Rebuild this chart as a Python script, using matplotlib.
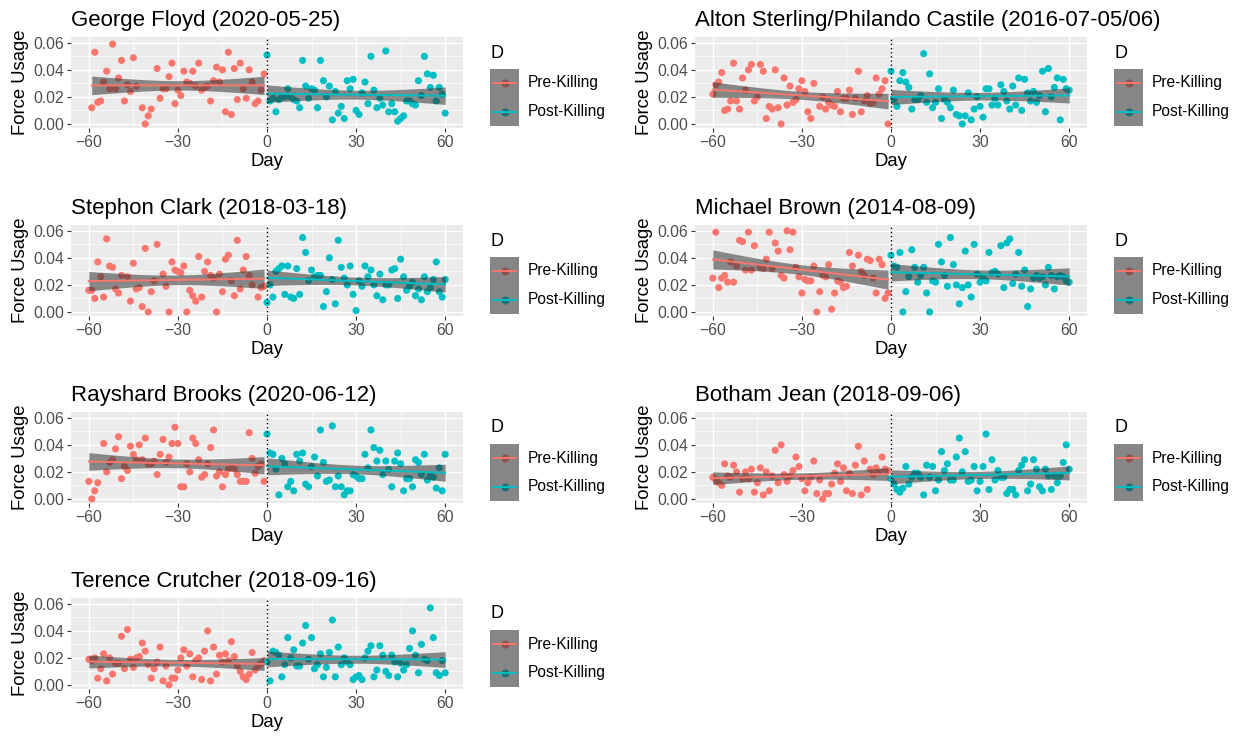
import matplotlib

matplotlib.use("Agg")

import matplotlib.pyplot as plt  # noqa: E402
import numpy as np  # noqa: E402
from matplotlib.lines import Line2D  # noqa: E402
from matplotlib.patches import Rectangle  # noqa: E402
from matplotlib.transforms import Affine2D  # noqa: E402

nan = np.nan

# ---- data: daily force usage, pre (days -60..-1) and post (days 0..60) ----
floyd_pre = [
    nan, 0.012, 0.053, 0.016, 0.017, 0.031, 0.039, 0.026, 0.059, 0.026,
    0.034, 0.047, 0.017, 0.029, 0.024, 0.049, 0.028, nan, 0.012, 0.000,
    0.006, 0.011, nan, 0.041, 0.019, 0.026, 0.026, 0.035, 0.045, 0.015,
    0.025, 0.021, 0.039, 0.031, 0.030, 0.039, 0.028, 0.045, 0.025, 0.027,
    0.028, 0.017, 0.032, 0.042, 0.031, 0.040, 0.009, 0.053, 0.007, 0.041,
    0.018, 0.045, 0.026, 0.019, 0.040, 0.031, 0.015, 0.017, 0.025, 0.037,
]
floyd_post = [
    0.051, 0.017, 0.019, 0.009, 0.018, 0.020, 0.020, 0.026, 0.020, 0.018,
    0.017, 0.012, 0.047, 0.028, 0.019, 0.026, 0.025, 0.012, 0.047, 0.032,
    0.020, 0.028, 0.003, 0.024, 0.008, 0.013, 0.004, 0.032, 0.026, 0.033,
    0.010, 0.007, 0.023, 0.031, 0.015, 0.050, 0.025, 0.012, 0.019, 0.014,
    0.054, 0.009, 0.015, 0.009, 0.002, 0.004, 0.006, 0.017, 0.017, 0.015,
    0.014, 0.032, 0.021, 0.050, 0.037, 0.027, 0.036, 0.017, 0.027, 0.022,
    0.008,
]
sterling_pre = [
    0.022, 0.029, 0.031, 0.038, 0.010, 0.011, 0.017, 0.045, 0.017, 0.011,
    0.034, 0.025, 0.040, 0.044, 0.017, 0.020, 0.044, 0.039, 0.004, 0.013,
    0.011, 0.040, 0.012, 0.000, 0.034, 0.014, 0.028, 0.016, 0.018, 0.026,
    0.032, 0.024, 0.009, 0.004, 0.030, nan, 0.013, 0.020, 0.011, 0.016,
    0.014, 0.013, 0.024, 0.009, 0.019, 0.019, 0.025, 0.007, 0.019, 0.039,
    0.009, 0.017, 0.021, 0.015, 0.016, 0.034, 0.022, 0.026, 0.032, 0.000,
]
sterling_post = [
    0.039, 0.018, 0.013, 0.032, 0.038, 0.031, 0.027, 0.011, 0.018, 0.018,
    0.021, 0.052, 0.016, 0.037, 0.012, 0.016, 0.026, 0.004, 0.018, 0.016,
    0.012, 0.025, 0.007, 0.006, 0.000, 0.006, 0.023, 0.003, 0.011, 0.020,
    0.013, 0.005, 0.026, 0.026, 0.014, 0.019, 0.014, 0.029, 0.024, 0.017,
    0.011, 0.028, 0.014, 0.034, 0.010, 0.033, 0.023, 0.017, 0.024, 0.016,
    0.021, 0.039, 0.009, 0.041, 0.020, 0.027, 0.034, 0.003, 0.033, 0.026,
    0.025,
]
clark_pre = [
    0.016, 0.016, 0.010, 0.037, 0.026, 0.011, 0.054, 0.034, 0.033, 0.017,
    0.014, 0.027, nan, 0.026, 0.008, 0.036, 0.017, 0.018, 0.004, 0.047,
    0.000, 0.015, 0.023, 0.050, nan, 0.028, 0.019, 0.000, 0.037, 0.031,
    0.030, 0.029, 0.034, 0.000, 0.016, 0.012, 0.008, 0.041, 0.011, 0.030,
    0.037, 0.027, 0.025, 0.000, 0.028, 0.015, 0.039, 0.042, 0.023, 0.012,
    0.053, 0.017, 0.031, 0.041, 0.027, 0.020, nan, 0.011, 0.018, 0.019,
]
clark_post = [
    0.007, 0.020, 0.011, 0.030, 0.032, 0.034, 0.013, 0.034, 0.011, 0.010,
    0.032, 0.013, 0.055, 0.044, 0.023, 0.031, 0.026, 0.027, 0.027, 0.004,
    0.015, 0.040, 0.024, 0.006, 0.053, 0.033, 0.025, 0.020, 0.034, 0.013,
    0.001, 0.023, 0.019, 0.034, 0.026, 0.031, 0.020, 0.012, 0.028, 0.009,
    0.020, 0.020, 0.031, 0.032, 0.010, 0.039, 0.026, 0.016, 0.019, 0.022,
    0.012, 0.017, 0.009, 0.026, 0.015, 0.018, 0.024, 0.037, 0.015, 0.011,
    0.024,
]
brown_pre = [
    0.025, 0.059, 0.018, 0.025, 0.027, 0.022, 0.037, 0.022, 0.034, 0.053,
    0.052, 0.031, 0.059, 0.031, 0.049, nan, 0.033, 0.032, 0.039, 0.059,
    0.032, 0.051, 0.045, 0.027, 0.025, 0.060, 0.046, 0.059, 0.033, 0.026,
    0.014, 0.024, 0.023, 0.023, 0.034, 0.000, 0.015, 0.027, 0.026, 0.035,
    0.002, 0.014, 0.023, 0.022, 0.018, 0.019, 0.044, 0.034, nan, 0.042,
    0.030, 0.027, 0.039, 0.038, 0.025, 0.014, 0.039, 0.035, 0.010, 0.014,
]
brown_post = [
    0.042, 0.034, 0.033, 0.044, 0.000, 0.015, 0.026, 0.046, 0.033, 0.022,
    0.027, 0.033, 0.014, 0.000, 0.023, 0.022, 0.050, 0.037, 0.027, 0.019,
    0.055, 0.035, 0.020, 0.006, 0.018, 0.045, 0.020, 0.011, 0.050, 0.028,
    0.022, 0.025, 0.023, 0.044, 0.029, 0.030, 0.028, 0.049, 0.018, 0.051,
    0.054, 0.021, 0.028, 0.044, 0.019, 0.031, 0.004, 0.017, 0.025, 0.027,
    0.025, 0.026, 0.020, 0.033, 0.027, 0.017, 0.026, 0.027, 0.026, 0.023,
    0.022,
]
brooks_pre = [
    0.013, 0.000, 0.006, 0.012, nan, 0.041, 0.020, 0.027, 0.029, 0.037,
    0.046, 0.015, 0.024, 0.021, 0.039, 0.033, 0.029, 0.040, 0.029, 0.045,
    0.026, 0.026, 0.028, 0.018, 0.033, 0.044, 0.027, 0.031, 0.041, 0.053,
    0.041, 0.009, 0.009, 0.026, 0.020, 0.045, 0.041, 0.029, 0.016, 0.018,
    0.026, 0.038, 0.051, 0.017, 0.020, 0.009, 0.018, 0.022, 0.023, 0.022,
    0.018, 0.013, 0.013, 0.013, 0.049, 0.030, 0.019, 0.024, 0.026, 0.013,
]
brooks_post = [
    0.048, 0.034, 0.033, 0.022, 0.003, 0.030, 0.026, 0.009, 0.013, 0.006,
    0.033, 0.028, 0.034, 0.011, 0.009, 0.024, 0.031, 0.017, 0.051, 0.027,
    0.013, 0.014, 0.054, 0.009, 0.017, 0.009, 0.003, 0.006, 0.006, 0.018,
    0.017, 0.015, 0.015, 0.033, 0.023, 0.051, 0.038, 0.028, 0.036, 0.018,
    0.028, 0.022, 0.009, 0.028, 0.034, 0.026, 0.006, 0.015, 0.015, 0.009,
    0.029, 0.027, 0.018, 0.033, 0.014, 0.017, 0.016, 0.008, 0.023, 0.006,
    0.033,
]
jean_pre = [
    0.016, 0.014, 0.012, 0.010, 0.026, 0.017, 0.016, 0.025, 0.020, 0.005,
    0.015, 0.020, 0.015, 0.022, 0.005, 0.012, 0.023, 0.003, 0.020, 0.006,
    0.017, 0.036, 0.012, 0.040, 0.018, 0.013, 0.017, 0.021, 0.031, 0.024,
    0.015, 0.006, 0.012, 0.016, 0.028, 0.004, 0.014, 0.000, 0.004, 0.004,
    0.011, 0.019, 0.026, 0.013, 0.023, 0.006, 0.019, 0.004, 0.025, 0.039,
    0.003, 0.028, 0.007, 0.022, 0.018, 0.023, 0.020, 0.031, 0.022, 0.021,
]
jean_post = [
    0.015, 0.011, 0.007, 0.005, 0.008, 0.024, 0.011, 0.016, 0.019, 0.019,
    0.016, 0.003, 0.025, 0.016, 0.024, 0.006, 0.014, 0.035, 0.021, 0.026,
    0.014, 0.014, 0.031, 0.045, 0.020, 0.035, 0.013, 0.014, 0.024, 0.006,
    0.013, 0.024, 0.048, 0.007, 0.029, 0.014, 0.021, 0.016, 0.016, 0.004,
    0.007, 0.007, 0.003, 0.021, 0.025, 0.029, 0.006, 0.011, 0.029, 0.022,
    0.009, 0.006, 0.022, 0.017, 0.007, 0.017, 0.012, 0.017, 0.027, 0.040,
    0.022,
]
crutcher_pre = [
    0.019, 0.018, 0.020, 0.005, 0.012, 0.023, 0.003, 0.020, 0.008, 0.016,
    0.016, 0.036, 0.012, 0.041, 0.019, 0.013, 0.020, 0.021, 0.031, 0.025,
    0.015, 0.005, 0.012, 0.017, 0.028, 0.003, 0.014, 0.000, 0.005, 0.005,
    0.011, 0.020, 0.026, 0.014, 0.023, 0.006, 0.018, 0.020, 0.004, 0.025,
    0.040, 0.003, 0.028, 0.008, 0.022, 0.017, 0.023, 0.018, 0.032, 0.021,
    0.014, 0.010, 0.006, 0.004, 0.008, 0.024, 0.011, 0.014, 0.016, 0.018,
]
crutcher_post = [
    0.017, 0.003, 0.025, 0.024, 0.022, 0.006, 0.015, 0.035, 0.020, 0.026,
    0.014, 0.014, 0.031, 0.044, 0.019, 0.035, 0.012, 0.015, 0.023, 0.006,
    0.013, 0.024, 0.048, 0.006, 0.028, 0.015, 0.020, 0.017, 0.015, 0.004,
    0.006, 0.007, 0.004, 0.020, 0.025, 0.029, 0.006, 0.011, 0.029, 0.022,
    0.010, 0.007, 0.022, 0.017, 0.006, 0.016, 0.011, 0.015, 0.027, 0.040,
    0.022, 0.009, 0.030, 0.019, 0.018, 0.057, 0.035, 0.009, 0.007, 0.018,
    0.009,
]

titles = [
    "George Floyd (2020-05-25)",
    "Alton Sterling/Philando Castile (2016-07-05/06)",
    "Stephon Clark (2018-03-18)",
    "Michael Brown (2014-08-09)",
    "Rayshard Brooks (2020-06-12)",
    "Botham Jean (2018-09-06)",
    "Terence Crutcher (2018-09-16)",
]
series = [
    (floyd_pre, floyd_post),
    (sterling_pre, sterling_post),
    (clark_pre, clark_post),
    (brown_pre, brown_post),
    (brooks_pre, brooks_post),
    (jean_pre, jean_post),
    (crutcher_pre, crutcher_post),
]
group_labels = ["Pre-Killing", "Post-Killing"]
group_colors = ["#F8766D", "#00BFC4"]

# ---- layout (pixels, origin top-left) ----
W, H = 1241, 740
col_x = [71, 695]
col_w = 392
row_y = [37, 225, 412, 598]
row_h = 91
BAND = "#333333"
BAND_ALPHA = 0.55

plt.rcParams["font.family"] = ["Liberation Sans", "DejaVu Sans"]

fig = plt.figure(figsize=(W / 100, H / 100), dpi=100)
fig.patch.set_facecolor("white")
pix = Affine2D().scale(1 / W, -1 / H).translate(0, 1) + fig.transFigure


def lm_band(x, y):
    """OLS fit with an approximate 95% confidence band for the mean."""
    ok = ~np.isnan(y)
    x, y = x[ok], y[ok]
    slope, icpt = np.polyfit(x, y, 1)
    xs = np.linspace(x.min(), x.max(), 80)
    fit = icpt + slope * xs
    resid = y - (icpt + slope * x)
    n = len(x)
    s = np.sqrt(np.sum(resid**2) / (n - 2))
    se = s * np.sqrt(1 / n + (xs - x.mean()) ** 2 / np.sum((x - x.mean()) ** 2))
    return xs, fit, fit - 2.0 * se, fit + 2.0 * se


def draw_legend(x, top):
    fig.text(x, top + 16, "D", transform=pix, fontsize=13, va="center", ha="left")
    fig.add_artist(Rectangle((x, top + 32), 29, 57, transform=pix,
                             facecolor="#EBEBEB", edgecolor="none", zorder=1))
    for i, (lab, col) in enumerate(zip(group_labels, group_colors)):
        cy = top + 46 + i * 28.5
        fig.add_artist(Line2D([x + 14.5], [cy], transform=pix, marker="o",
                              markersize=4.8, color=col, linestyle="none", zorder=2))
        fig.add_artist(Line2D([x + 3, x + 26], [cy, cy], transform=pix,
                              color=col, linewidth=1.4, zorder=4))
        fig.text(x + 38, cy, lab, transform=pix, fontsize=11.2, va="center", ha="left")
    fig.add_artist(Rectangle((x, top + 32), 29, 57, transform=pix,
                             facecolor=BAND, alpha=BAND_ALPHA, edgecolor="none", zorder=3))


for k, (title, (pre, post)) in enumerate(zip(titles, series)):
    r, c = divmod(k, 2)
    x0, y0 = col_x[c], row_y[r]
    ax = fig.add_axes([x0 / W, 1 - (y0 + row_h) / H, col_w / W, row_h / H])
    ax.set_facecolor("#EBEBEB")
    for s in ax.spines.values():
        s.set_visible(False)

    pre = np.array(pre, dtype=float)
    post = np.array(post, dtype=float)
    groups = [(np.arange(-len(pre), 0), pre), (np.arange(0, len(post)), post)]

    for (days, vals), col in zip(groups, group_colors):
        ax.scatter(days, vals, s=26, color=col, edgecolors="none", zorder=3)
        xs, fit, lo, hi = lm_band(days.astype(float), vals)
        ax.fill_between(xs, lo, hi, color=BAND, alpha=BAND_ALPHA, linewidth=0, zorder=4)
        ax.plot(xs, fit, color=col, linewidth=1.4, zorder=5)

    ax.axvline(0, color="black", linestyle=(0, (1, 2)), linewidth=1.0, zorder=6)

    ax.set_xlim(-66, 66)
    ax.set_ylim(-0.003, 0.0643)
    ax.set_xticks([-60, -30, 0, 30, 60])
    ax.set_xticks([-45, -15, 15, 45], minor=True)
    ax.set_yticks([0.0, 0.02, 0.04, 0.06])
    ax.set_yticks([0.01, 0.03, 0.05], minor=True)
    ax.set_yticklabels(["0.00", "0.02", "0.04", "0.06"])
    ax.grid(which="major", color="white", linewidth=1.0, zorder=0)
    ax.grid(which="minor", color="white", linewidth=0.5, zorder=0)
    ax.set_axisbelow(True)
    ax.tick_params(which="major", length=3, width=0.8, color="#333333",
                   labelsize=11.3, labelcolor="#4D4D4D", pad=2)
    ax.tick_params(which="minor", length=0)

    ax.set_xlabel("Day", fontsize=13.3, labelpad=2)
    ax.set_ylabel("Force Usage", fontsize=13.3, labelpad=3)
    ax.set_title(title, loc="left", fontsize=16, pad=8)

    draw_legend(x0 + col_w + 27, y0)

fig.savefig("out.png", dpi=100)
